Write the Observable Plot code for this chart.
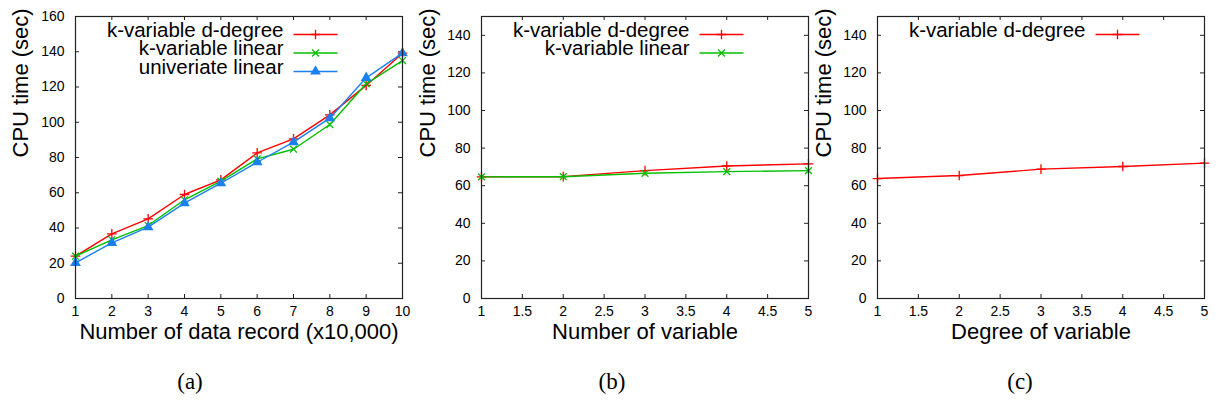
<!DOCTYPE html>
<html>
<head>
<meta charset="utf-8">
<script src="https://cdn.jsdelivr.net/npm/d3@7"></script>
<script src="https://cdn.jsdelivr.net/npm/@observablehq/plot@0.6"></script>
<style>
  body { margin: 0; background: #fff; }
  #root { position: relative; width: 1219px; height: 409px; background: #fff; overflow: hidden; }
  .panel { position: absolute; top: 0; }
  .caption { position: absolute; top: 368px; width: 60px; margin-left: -30px; text-align: center;
             font-family: "Liberation Serif", "DejaVu Serif", serif; font-size: 23px; line-height: 28px; color: #000; }
</style>
</head>
<body>
<div id="root"></div>
<script>
// ---- data ----
const recordX = [1, 2, 3, 4, 5, 6, 7, 8, 9, 10];
const recordDegree = [24, 36.7, 45.2, 59, 67.3, 82.6, 90.6, 104.2, 120.9, 139.2];
const recordLinear = [24, 33.3, 41.4, 56, 66.6, 79.2, 84.7, 98.7, 121.8, 135];
const recordUnivariate = [20.2, 31.6, 40.5, 54.1, 65.4, 77.3, 88.7, 102.3, 125.2, 139.2];

const variableX = [1, 2, 3, 4, 5];
const variableDegree = [64.7, 64.8, 68, 70.5, 71.6];
const variableLinear = [64.7, 64.8, 66.6, 67.5, 68];

const degreeX = [1, 2, 3, 4, 5];
const degreeDegree = [63.8, 65.4, 68.8, 70.2, 72];

const ticksXA = [1, 2, 3, 4, 5, 6, 7, 8, 9, 10];
const ticksYA = [0, 20, 40, 60, 80, 100, 120, 140, 160];
const ticksXBC = [1, 1.5, 2, 2.5, 3, 3.5, 4, 4.5, 5];
const ticksYBC = [0, 20, 40, 60, 80, 100, 120, 140];

const nameDegree = "k-variable d-degree";
const nameLinear = "k-variable linear";
const nameUnivariate = "univeriate linear";
const yLabel = "CPU time (sec)";
const xLabelA = "Number of data record (x10,000)";
const xLabelB = "Number of variable";
const xLabelC = "Degree of variable";
const captions = ["(a)", "(b)", "(c)"];

// ---- styling ----
const RED = "#ff0000", GREEN = "#00c000", BLUE = "#1a80f0";
const AXIS = "#222";
const hline = { draw(ctx) { ctx.moveTo(-22, 0); ctx.lineTo(22, 0); } };

function markSpec(symbol, color) {
  if (symbol === "triangle") return { symbol, fill: color, stroke: "none", r: 4 };
  return { symbol, fill: "none", stroke: color, strokeWidth: 1.3, r: 3.2 };
}

function panel({ left, width, marginLeft, marginRight, xDomain, yDomain, xTicks, yTicks, xLabel, yLabelDx, series }) {
  const height = 360, marginTop = 16, marginBottom = 62;
  const W = width - marginLeft - marginRight, H = height - marginTop - marginBottom;
  const t = 4;
  const marks = [
    Plot.tickX(xTicks, { x: d => d, insetTop: H - t, stroke: AXIS }),
    Plot.tickX(xTicks, { x: d => d, insetBottom: H - t, stroke: AXIS }),
    Plot.tickY(yTicks, { y: d => d, insetRight: W - t, stroke: AXIS }),
    Plot.tickY(yTicks, { y: d => d, insetLeft: W - t, stroke: AXIS }),
    Plot.axisX({ ticks: xTicks, tickSize: 0, tickPadding: 8, tickFormat: d => String(d), label: null }),
    Plot.axisY({ ticks: yTicks, tickSize: 0, tickPadding: 11, label: null }),
    Plot.text([xLabel], { text: d => d, frameAnchor: "bottom", dy: 40, fontSize: 22 }),
    Plot.text([yLabel], { text: d => d, frameAnchor: "left", dx: yLabelDx, rotate: -90, fontSize: 22 })
  ];
  for (const s of series) {
    const data = s.x.map((x, i) => ({ x, y: s.y[i] }));
    marks.push(Plot.line(data, { x: "x", y: "y", stroke: s.color, strokeWidth: 1.4 }));
    marks.push(Plot.dot(data, { x: "x", y: "y", ...markSpec(s.symbol, s.color) }));
  }
  series.forEach((s, i) => {
    const ly = 18 + i * 18.5;
    marks.push(Plot.text([s.name], { text: d => d, frameAnchor: "top-left", dx: 208, dy: ly + 2, textAnchor: "end", lineAnchor: "bottom", fontSize: 20.5 }));
    marks.push(Plot.dot([0], { frameAnchor: "top-left", dx: 240, dy: ly, symbol: hline, fill: "none", stroke: s.color, strokeWidth: 1.4, r: 4 }));
    marks.push(Plot.dot([0], { frameAnchor: "top-left", dx: 240, dy: ly, ...markSpec(s.symbol, s.color) }));
  });
  marks.push(Plot.frame({ stroke: AXIS, strokeWidth: 1.2 }));

  const chart = Plot.plot({
    width, height, marginLeft, marginRight, marginTop, marginBottom,
    x: { domain: xDomain },
    y: { domain: yDomain },
    style: { fontFamily: "'Liberation Sans', Arial, sans-serif", fontSize: "14px", color: "#000",
             background: "transparent", overflow: "visible", maxWidth: "none" },
    marks
  });
  const wrap = document.createElement("div");
  wrap.className = "panel";
  wrap.style.left = left + "px";
  wrap.appendChild(chart);
  document.getElementById("root").appendChild(wrap);
}

panel({
  left: 0, width: 410, marginLeft: 75, marginRight: 8,
  xDomain: [1, 10], yDomain: [0, 160], xTicks: ticksXA, yTicks: ticksYA,
  xLabel: xLabelA, yLabelDx: -55,
  series: [
    { name: nameDegree, x: recordX, y: recordDegree, color: RED, symbol: "plus" },
    { name: nameLinear, x: recordX, y: recordLinear, color: GREEN, symbol: "times" },
    { name: nameUnivariate, x: recordX, y: recordUnivariate, color: BLUE, symbol: "triangle" }
  ]
});
panel({
  left: 410, width: 400, marginLeft: 71, marginRight: 2,
  xDomain: [1, 5], yDomain: [0, 150], xTicks: ticksXBC, yTicks: ticksYBC,
  xLabel: xLabelB, yLabelDx: -54,
  series: [
    { name: nameDegree, x: variableX, y: variableDegree, color: RED, symbol: "plus" },
    { name: nameLinear, x: variableX, y: variableLinear, color: GREEN, symbol: "times" }
  ]
});
panel({
  left: 810, width: 409, marginLeft: 67, marginRight: 15,
  xDomain: [1, 5], yDomain: [0, 150], xTicks: ticksXBC, yTicks: ticksYBC,
  xLabel: xLabelC, yLabelDx: -54,
  series: [
    { name: nameDegree, x: degreeX, y: degreeDegree, color: RED, symbol: "plus" }
  ]
});

const capX = [190, 612, 1020];
captions.forEach((c, i) => {
  const d = document.createElement("div");
  d.className = "caption";
  d.style.left = capX[i] + "px";
  d.textContent = c;
  document.getElementById("root").appendChild(d);
});
</script>
</body>
</html>
